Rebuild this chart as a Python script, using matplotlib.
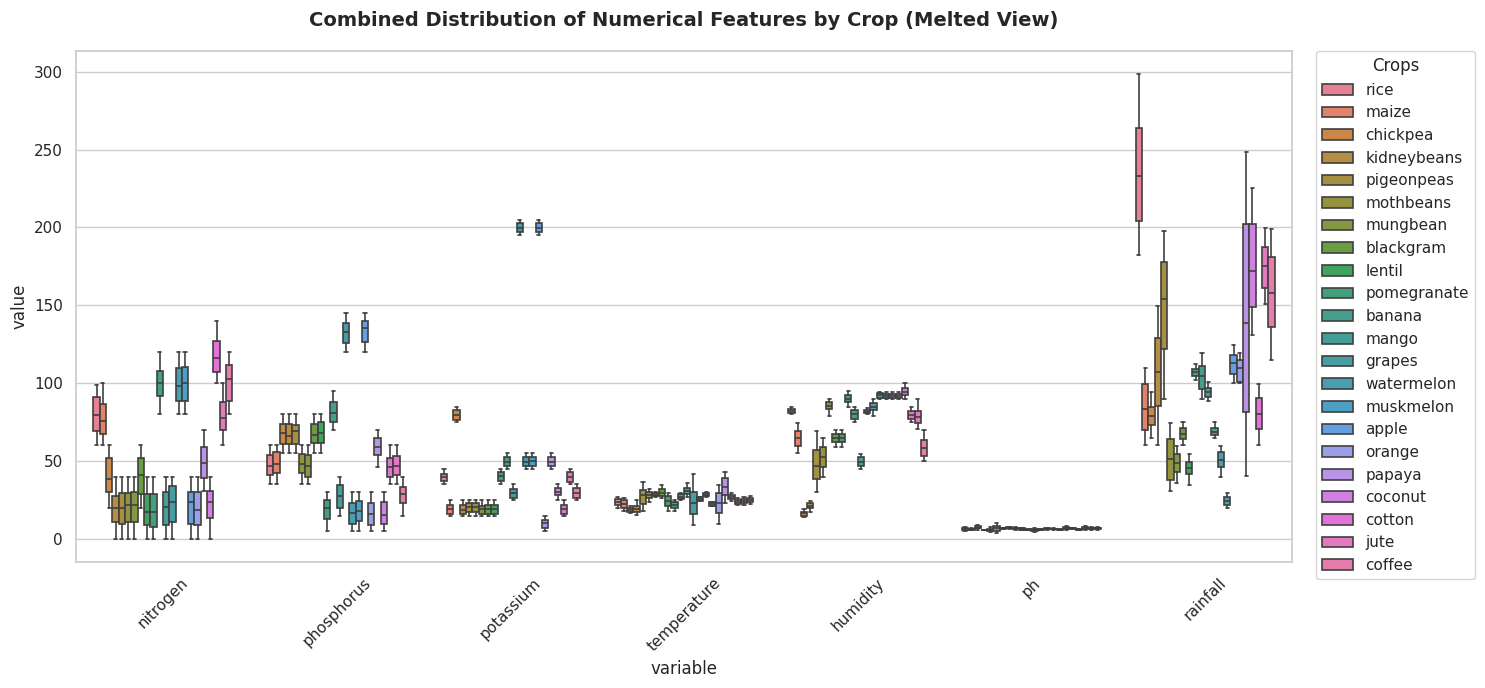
import matplotlib
matplotlib.use("Agg")
import matplotlib.pyplot as plt
import seaborn as sns
from matplotlib.patches import Patch

# ── data (whisker low, q1, median, q3, whisker high) ──

CROPS = ["rice", "maize", "chickpea", "kidneybeans", "pigeonpeas", "mothbeans",
         "mungbean", "blackgram", "lentil", "pomegranate", "banana", "mango",
         "grapes", "watermelon", "muskmelon", "apple", "orange", "papaya",
         "coconut", "cotton", "jute", "coffee"]

VARIABLES = ["nitrogen", "phosphorus", "potassium", "temperature",
             "humidity", "ph", "rainfall"]

nitrogen = [
    (60, 69, 79.7, 91, 99), (60, 67.5, 76, 86.7, 100), (20, 30, 38.5, 52, 60),
    (0, 11, 20, 27.6, 40), (0, 9.6, 19.8, 29.6, 40), (0, 10.7, 21.8, 29.5, 40),
    (0, 11, 22, 30, 40), (20, 29, 41, 52, 60), (0, 9, 17, 28.7, 40),
    (0, 7.7, 17.5, 29, 40), (80, 92, 100, 108, 120), (0, 9, 20.7, 30, 40),
    (0, 11, 23.5, 34, 40), (80, 88.6, 98.5, 110, 120), (80, 88.6, 100, 110.7, 120),
    (0, 9.6, 23.5, 30, 40), (0, 9, 18.5, 30, 40), (31, 39, 49, 59, 70),
    (0, 13.3, 23.5, 30.6, 40), (100, 107, 116, 127, 140), (60, 70, 77.7, 88, 100),
    (80, 88.6, 102.8, 112, 120),
]

phosphorus = [
    (35, 41, 47, 54, 60), (35, 42, 48, 55.7, 60), (55, 61, 68, 73.7, 80),
    (55, 61, 66, 73.7, 80), (55, 61, 69, 73, 80), (35, 42, 48, 54.6, 60),
    (35, 40, 47, 54, 60), (55, 61.5, 67, 73.7, 80), (55, 61.5, 68, 75, 80),
    (5, 12.8, 19.7, 25, 30), (70, 75, 81, 87.8, 95), (15, 19.7, 27.6, 34.5, 40),
    (120, 125.7, 132.8, 138.5, 145), (5, 9.4, 16.5, 23, 30), (5, 11.8, 18.2, 24.6, 30),
    (120, 126.3, 135.7, 140, 145), (5, 9, 16, 23, 30), (46, 54, 59.3, 64.7, 70),
    (5, 9.6, 15.4, 24, 30), (35, 39.6, 46, 51.8, 60), (35, 41, 47, 53.3, 60),
    (15, 23, 28.7, 33.6, 40),
]

potassium = [
    (35, 37.5, 39.6, 41.7, 45), (15, 16, 19, 21.8, 25), (75, 76.4, 79.7, 82.9, 85),
    (15, 16, 18.6, 21.8, 25), (15, 17.5, 20.7, 22.9, 25), (15, 17.5, 20.3, 22.9, 25),
    (15, 16, 19, 21.4, 25), (15, 16, 19, 21.8, 25), (15, 16, 19, 21.8, 25),
    (35, 37.5, 40.5, 42.8, 45), (45, 46.5, 49.7, 52.5, 55), (25, 26.5, 29.3, 32, 35),
    (195, 196.8, 199.6, 202.8, 205), (45, 46.5, 49.7, 52.5, 55), (45, 46.5, 50, 52.5, 55),
    (195, 196.8, 199.6, 203.2, 205), (5, 6.9, 10, 12.2, 15), (45, 46.5, 49.7, 52.5, 55),
    (25, 28.3, 30.4, 32.5, 35), (15, 16, 19, 21.8, 25), (35, 36.4, 39.6, 42.8, 45),
    (25, 26.1, 29.3, 32.5, 35),
]

temperature = [
    (19.7, 21.6, 23.6, 25.5, 27), (18, 19.7, 22.3, 25, 26.1), (16.5, 17.5, 18.8, 20.1, 21.4),
    (15.4, 17.5, 19, 21.4, 25), (18.2, 22.5, 28.3, 31.5, 36.4), (23.6, 26.1, 28.3, 30, 31.9),
    (27, 27.5, 28.3, 29.2, 29.9), (26.1, 27.6, 29.7, 31.9, 34.7), (18, 21.4, 24.4, 27.6, 29.3),
    (18, 19.7, 21.8, 23.6, 25), (24.8, 25.5, 27.2, 28.7, 29.3), (27.2, 28.7, 31, 33, 35.8),
    (9, 16, 23.3, 30.4, 41.6), (24.1, 24.6, 25.7, 26.8, 27), (27, 27.5, 28.3, 29.3, 29.9),
    (21, 21.4, 22.5, 23.6, 24), (9.6, 16.5, 22.9, 29.3, 34.7), (22.9, 28.3, 33.6, 39, 43.2),
    (24.6, 25.7, 27.2, 28.3, 29.3), (22, 22.5, 24, 25, 26), (21.8, 22.9, 24.4, 25.5, 26.8),
    (22.7, 23.8, 25.2, 26.5, 27.4),
]

humidity = [
    (79.9, 80.7, 82.2, 83.3, 84.6), (55, 59.9, 64.7, 69.4, 74.3), (13.9, 15, 16.5, 17.5, 19),
    (17.5, 19.7, 21.4, 22.9, 24.6), (30, 38.3, 46.9, 57.2, 69.4), (39.6, 46.4, 52.9, 58.9, 64.7),
    (79.2, 83.3, 85.6, 87.8, 89.7), (59.3, 62.5, 64.9, 67.2, 70), (59.3, 62.1, 64.7, 67.2, 70),
    (84.6, 87.6, 89.9, 92.5, 95), (75, 77.1, 80.1, 82.9, 85), (45, 47.1, 49.7, 52.5, 54.4),
    (80, 80.7, 81.8, 82.9, 84), (79.2, 82.9, 85, 87.2, 89.7), (89.7, 90.4, 92.1, 93.6, 94.6),
    (89.7, 90.8, 91.9, 93, 94.6), (89.7, 90.8, 91.9, 93, 94.6), (89.7, 90.8, 91.9, 93, 94.6),
    (89.7, 92.1, 94.6, 96.8, 100), (75, 76.9, 79.7, 82.2, 84.6), (70.5, 74.3, 78.6, 82.4, 89.7),
    (50.1, 53.5, 58.3, 63.6, 70),
]

ph = [
    (5.0, 5.9, 6.4, 6.9, 7.9), (5.5, 5.9, 6.3, 6.6, 7.0), (6.0, 6.8, 7.3, 8.1, 9.0),
    (5.5, 5.6, 5.75, 5.9, 6.0), (4.5, 5.2, 5.8, 6.6, 7.5), (3.5, 5.2, 6.8, 8.3, 9.9),
    (6.2, 6.5, 6.7, 7.0, 7.2), (6.5, 6.8, 7.1, 7.5, 7.8), (5.9, 6.4, 6.9, 7.3, 7.8),
    (5.6, 6.0, 6.4, 6.8, 7.2), (5.5, 5.7, 6.0, 6.2, 6.5), (4.5, 5.1, 5.7, 6.4, 7.0),
    (5.5, 5.8, 6.0, 6.3, 6.5), (6.0, 6.2, 6.5, 6.7, 7.0), (6.0, 6.2, 6.4, 6.6, 6.8),
    (5.5, 5.7, 5.9, 6.2, 6.5), (6.0, 6.5, 7.0, 7.5, 8.0), (6.5, 6.6, 6.7, 6.9, 7.0),
    (5.5, 5.7, 6.0, 6.2, 6.5), (5.8, 6.4, 6.9, 7.5, 8.0), (6.0, 6.4, 6.7, 7.1, 7.5),
    (6.0, 6.4, 6.8, 7.1, 7.5),
]

rainfall = [
    (182.2, 203.9, 232.8, 263.8, 298.5), (60.2, 70, 83.3, 99.4, 109.6), (64.7, 73, 79.2, 85, 94.2),
    (60.2, 85.4, 107.1, 128.9, 149.7), (89.7, 121.9, 154, 177.7, 198), (30.8, 37.9, 51.2, 64, 74.3),
    (35.8, 43, 48.6, 54.4, 59.7), (60.2, 64, 67.6, 71.1, 75), (34.7, 41.8, 45.8, 49.7, 54.4),
    (102, 104.7, 107.1, 109.2, 112.2), (89.7, 96.2, 104.3, 111.3, 119.3), (88.8, 91, 94.2, 97.2, 100.7),
    (64.9, 66.6, 68.9, 71.1, 75), (39.6, 46, 50.7, 56.1, 59.7), (19.7, 21.8, 24.4, 26.8, 29.3),
    (100, 106, 112.9, 117.8, 124.4), (100, 101, 110, 115, 119.3), (40.5, 81.4, 138.6, 202.4, 248.4),
    (131, 149.2, 172.2, 202.4, 225.3), (60.2, 70.5, 80.1, 90.4, 99.4), (150.8, 161.1, 175.4, 187.4, 199.6),
    (115, 136, 157.8, 181, 199),
]

STATS = [nitrogen, phosphorus, potassium, temperature, humidity, ph, rainfall]

# ── plot ───────────────────────────────────────────────────────────────────────

sns.set_theme(style="whitegrid")

colors = [sns.desaturate(c, 0.75) for c in sns.color_palette("husl", len(CROPS))]
LINE = "#3f3f3f"
LW = 1.2

fig, ax = plt.subplots(figsize=(14.85, 6.88), dpi=100)
fig.subplots_adjust(left=0.0512, right=0.870, top=0.926, bottom=0.183)

n = len(CROPS)
w = 0.8 / n
for i, var_stats in enumerate(STATS):
    stats = [dict(whislo=s[0], q1=s[1], med=s[2], q3=s[3], whishi=s[4], fliers=[])
             for s in var_stats]
    pos = [i - 0.4 + (j + 0.5) * w for j in range(n)]
    bp = ax.bxp(stats, positions=pos, widths=w, patch_artist=True,
                showfliers=False, manage_ticks=False, capwidths=w * 0.5,
                boxprops=dict(edgecolor=LINE, linewidth=LW),
                medianprops=dict(color=LINE, linewidth=LW),
                whiskerprops=dict(color=LINE, linewidth=LW),
                capprops=dict(color=LINE, linewidth=LW))
    for patch, c in zip(bp["boxes"], colors):
        patch.set_facecolor(c)

ax.set_xlim(-0.5, len(VARIABLES) - 0.5)
ax.set_ylim(-14.9, 313.4)
ax.set_xticks(range(len(VARIABLES)))
ax.set_xticklabels(VARIABLES, rotation=45)
ax.xaxis.grid(False)
ax.set_xlabel("variable")
ax.set_ylabel("value")
ax.set_title("Combined Distribution of Numerical Features by Crop (Melted View)",
             fontsize=14, fontweight="bold", pad=18)

handles = [Patch(facecolor=c, edgecolor=LINE, linewidth=LW, label=crop)
           for crop, c in zip(CROPS, colors)]
ax.legend(handles=handles, title="Crops", loc="upper left",
          bbox_to_anchor=(1.02, 1), borderaxespad=0)

plt.savefig("out.png", dpi=100)
